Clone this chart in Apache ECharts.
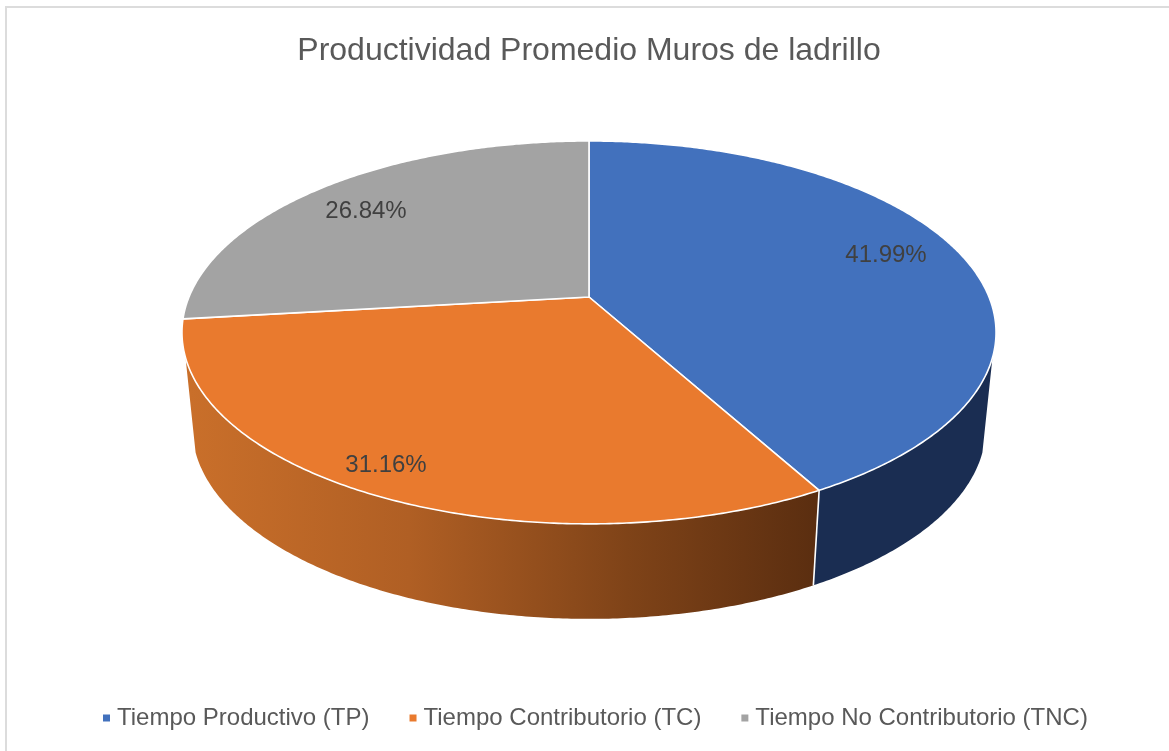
<!DOCTYPE html>
<html>
<head>
<meta charset="utf-8">
<style>html,body{margin:0;padding:0;background:#fff}#c{width:1169px;height:751px}</style>
<script src="https://cdn.jsdelivr.net/npm/echarts@6/dist/echarts.min.js"></script>
</head>
<body>
<div id="c"></div>
<script>
const titleText = 'Productividad Promedio Muros de ladrillo';
const categories = ['Tiempo Productivo (TP)', 'Tiempo Contributorio (TC)', 'Tiempo No Contributorio (TNC)'];
const shares = [41.99, 31.16, 26.84];
const faceColors = ['#4271BD', '#E97A2E', '#A3A3A3'];
const labelAt = [[886, 255], [386, 465], [366, 211]];

// perspective projection of the tilted disc
const CX = 589, CY = 297, A = 400, B = 184.9, K = 0.185;
const DROP_Y = 95, DROP_SX = 0.975;
const total = shares.reduce((a, b) => a + b, 0);
const startOf = i => shares.slice(0, i).reduce((a, b) => a + b, 0) / total * 360;
function project(deg, r, lower) {
  const t = deg * Math.PI / 180, u = r * Math.sin(t), v = -r * Math.cos(t), d = 1 - K * v;
  return [CX + (lower ? DROP_SX : 1) * A * u / d, CY + (lower ? DROP_Y : 0) + B * v / d];
}
function arc(from, to, lower) {
  const pts = [], n = Math.max(2, Math.ceil(Math.abs(to - from) / 0.5));
  for (let i = 0; i <= n; i++) pts.push(project(from + (to - from) * i / n, 1, lower));
  return pts;
}
const wallFill = [
  '#1A2D52',
  { type: 'linear', x: 190, y: 0, x2: 815, y2: 0, global: true,
    colorStops: [{ offset: 0, color: '#C96F2A' }, { offset: 0.35, color: '#B05F24' }, { offset: 0.7, color: '#7F4318' }, { offset: 1, color: '#5B2E10' }] },
  null
];
const wallRange = [[108, null], [null, 252], null];

function sliceSeries(i) {
  return {
    type: 'custom',
    name: categories[i],
    coordinateSystem: 'none',
    itemStyle: { color: faceColors[i] },
    silent: true,
    data: [[shares[i]]],
    renderItem: function (params, api) {
      const sweep = api.value(0) / total * 360;
      const a0 = startOf(i), a1 = a0 + sweep;
      const children = [];
      if (wallRange[i]) {
        const from = wallRange[i][0] === null ? a0 : wallRange[i][0];
        const to = wallRange[i][1] === null ? a1 : wallRange[i][1];
        children.push({
          type: 'polygon', z2: 1,
          shape: { points: arc(from, to, false).concat(arc(to, from, true)) },
          style: { fill: wallFill[i], stroke: null }
        });
      }
      children.push({
        type: 'polygon', z2: 3,
        shape: { points: [[CX, CY]].concat(arc(a0, a1, false)) },
        style: { fill: faceColors[i], stroke: '#fff', lineWidth: 1.6, lineJoin: 'round' }
      });
      if (i === 0) {
        children.push({
          type: 'line', z2: 2,
          shape: { x1: project(a1, 1)[0], y1: project(a1, 1)[1], x2: project(a1, 1, true)[0], y2: project(a1, 1, true)[1] },
          style: { stroke: '#fff', lineWidth: 1.6 }
        });
      }
      children.push({
        type: 'text', z2: 5,
        x: labelAt[i][0], y: labelAt[i][1],
        style: { text: api.value(0).toFixed(2) + '%', fill: '#404040', font: '24px "Liberation Sans"', align: 'center', verticalAlign: 'middle' }
      });
      return { type: 'group', children: children };
    }
  };
}

const chart = echarts.init(document.getElementById('c'), null, { renderer: 'canvas' });
chart.setOption({
  animation: false,
  backgroundColor: '#fff',
  color: faceColors,
  title: {
    text: titleText, left: 584, top: 46, textAlign: 'center', textVerticalAlign: 'middle',
    textStyle: { fontFamily: 'Liberation Sans', fontSize: 32, fontWeight: 'normal', color: '#595959' }
  },
  legend: {
    data: categories.map(n => ({ name: n, icon: 'rect' })),
    left: 103, top: 706, itemWidth: 7, itemHeight: 7, itemGap: 40, padding: 0, selectedMode: false,
    textStyle: { fontFamily: 'Liberation Sans', fontSize: 24, color: '#595959', padding: [0, 0, 0, 2] }
  },
  graphic: [{
    type: 'rect', z: -1, silent: true,
    shape: { x: 6, y: 7, width: 1180, height: 770 },
    style: { fill: 'none', stroke: '#DCDCDC', lineWidth: 2 }
  }],
  series: shares.map((_, i) => sliceSeries(i))
});
</script>
</body>
</html>
